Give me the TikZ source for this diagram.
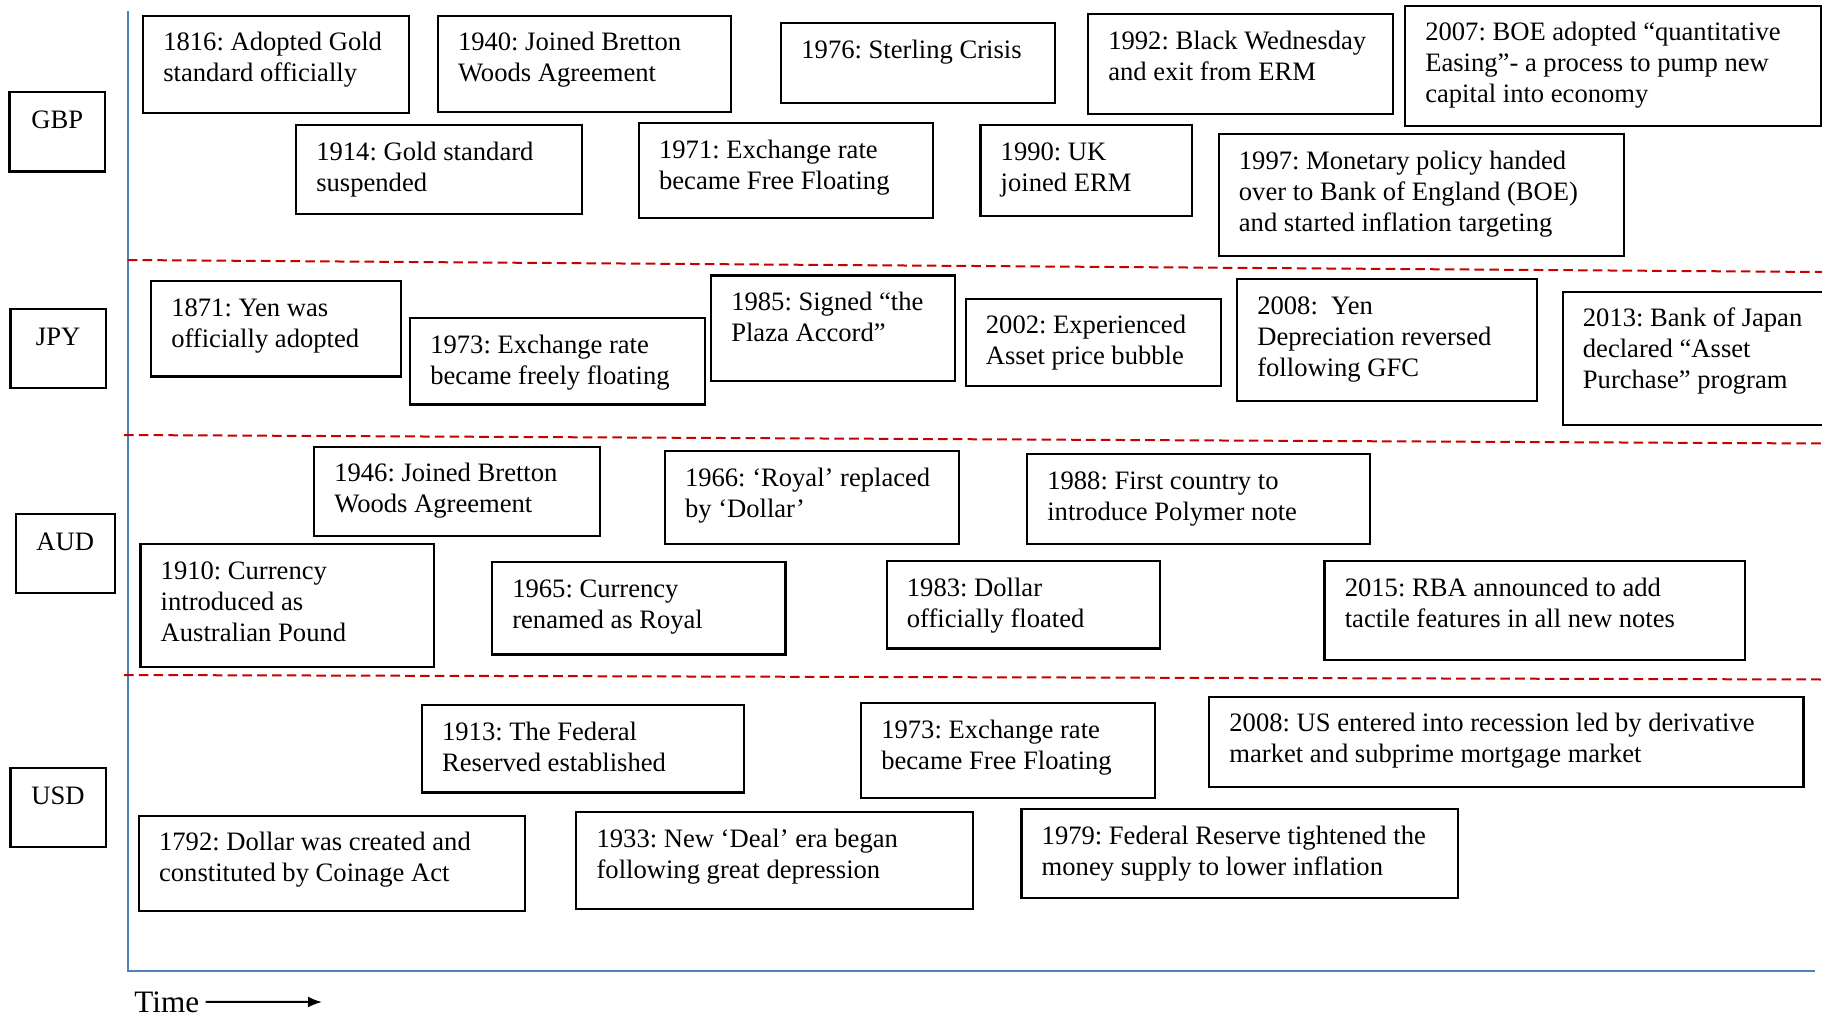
\documentclass[tikz,border=0pt]{standalone}
\usepackage{fontspec}
\setmainfont{Liberation Serif}
\frenchspacing
\usetikzlibrary{fit,calc,arrows.meta}
\newcommand\lines[1]{\begin{tabular}[t]{@{}l@{}}#1\end{tabular}}
\newcommand\boxfont{\rmfamily\fontsize{13.3}{15.5}\selectfont}
\definecolor{axisblue}{RGB}{79,129,189}
\definecolor{dashred}{RGB}{200,0,0}
\tikzset{
  box/.style={draw=black, line width=1.1pt, inner sep=0pt},
  txt/.style={anchor=base west, inner sep=0pt, font=\boxfont},
  cur/.style={anchor=base, inner sep=0pt, font=\boxfont},
  reddash/.style={draw=dashred, line width=1pt, dash pattern=on 4.8pt off 2.6pt},
  axisline/.style={draw=axisblue, line width=0.9pt},
}
\newcommand\evbox[6]{%
  \coordinate (#1-a) at (#2,#3);
  \coordinate (#1-b) at (#4,#5);
  \node[box, fit=(#1-a)(#1-b)] (#1) {};
  \node[txt] (#1-t) at ($(#1.north west)+(21,36.3)$) {\lines{#6}};
}
\newcommand\curbox[6]{%
  \coordinate (#1-a) at (#2,#3);
  \coordinate (#1-b) at (#4,#5);
  \node[box, fit=(#1-a)(#1-b)] (#1) {};
  \node[cur] (#1-t) at ($(#1.north)+(0,37.5)$) {#6};
}
\begin{document}
\begin{tikzpicture}[x=0.5pt,y=-0.5pt]
\useasboundingbox (0,0) rectangle (1822,1017);
% axes
\coordinate (ax-top) at (127.7,10.7);
\coordinate (ax-corner) at (127.7,971);
\coordinate (ax-end) at (1815,971);
\draw[axisline] (ax-top) -- (ax-corner) -- (ax-end);
% separators
\coordinate (s1a) at (127.7,260); \coordinate (s1b) at (1822,272);
\coordinate (s2a) at (124,435);   \coordinate (s2b) at (1822,443.5);
\coordinate (s3a) at (124,675);   \coordinate (s3b) at (1822,679.5);
\draw[reddash] (s1a) -- (s1b);
\draw[reddash] (s2a) -- (s2b);
\draw[reddash] (s3a) -- (s3b);
% currency labels
\curbox{gbp}{9.5}{91.7}{105}{171.5}{GBP}
\curbox{jpy}{10.5}{309}{105.7}{388}{JPY}
\curbox{aud}{15.8}{513.7}{114.7}{593.3}{AUD}
\curbox{usd}{10.5}{768}{105.7}{847}{USD}
% GBP
\evbox{g1816}{143}{15.7}{409}{112.7}{1816: Adopted Gold\\standard officially}
\evbox{g1940}{437.7}{15.7}{731.3}{112}{1940: Joined Bretton\\Woods Agreement}
\evbox{g1976}{781.1}{23.3}{1055.1}{102.7}{1976: Sterling Crisis}
\evbox{g1992}{1088}{14}{1393}{114}{1992: Black Wednesday\\and exit from ERM}
\evbox{g2007}{1405}{5.7}{1821}{126}{2007: BOE adopted “quantitative\\Easing”- a process to pump new\\capital into economy}
\evbox{g1914}{296}{125}{582}{213.7}{1914: Gold standard\\suspended}
\evbox{g1971}{638.8}{123.3}{933.3}{217.7}{1971: Exchange rate\\became Free Floating}
\evbox{g1990}{980.4}{125}{1192}{216}{1990: UK\\joined ERM}
\evbox{g1997}{1218.6}{134.3}{1623.6}{256}{1997: Monetary policy handed\\over to Bank of England (BOE)\\and started inflation targeting}
% JPY
\evbox{j1871}{151}{281}{401}{376.5}{1871: Yen was\\officially adopted}
\evbox{j1973}{410}{318}{705}{404.4}{1973: Exchange rate\\became freely floating}
\evbox{j1985}{711}{275.4}{955}{381}{1985: Signed “the\\Plaza Accord”}
\evbox{j2002}{965.6}{298.6}{1221}{385.8}{2002: Experienced\\Asset price bubble}
\evbox{j2008}{1237}{279}{1537}{401}{2008:\ \ Yen\\Depreciation reversed\\following GFC}
\evbox{j2013}{1562.6}{291.7}{1840}{425}{2013: Bank of Japan\\declared “Asset\\Purchase” program}
% AUD
\evbox{a1946}{314}{446.7}{600.2}{536}{1946: Joined Bretton\\Woods Agreement}
\evbox{a1966}{664.7}{450.9}{958.6}{543.8}{1966: ‘Royal’ replaced\\by ‘Dollar’}
\evbox{a1988}{1027}{454.3}{1370}{543.8}{1988: First country to\\introduce Polymer note}
\evbox{a1910}{140.4}{544.3}{434.2}{666.7}{1910: Currency\\introduced as\\Australian Pound}
\evbox{a1965}{492}{562.3}{785.5}{654.5}{1965: Currency\\renamed as Royal}
\evbox{a1983}{886.6}{561.2}{1159.7}{648.4}{1983: Dollar\\officially floated}
\evbox{a2015}{1324.5}{561.2}{1745}{660}{2015: RBA announced to add\\tactile features in all new notes}
% USD
\evbox{u1913}{421.8}{705.3}{743.7}{792.5}{1913: The Federal\\Reserved established}
\evbox{u1973}{861}{703.3}{1155.2}{797.7}{1973: Exchange rate\\became Free Floating}
\evbox{u2008}{1209.1}{696.7}{1803.5}{786.7}{2008: US entered into recession led by derivative\\market and subprime mortgage market}
\evbox{u1792}{138.8}{815.7}{524.6}{911}{1792: Dollar was created and\\constituted by Coinage Act}
\evbox{u1933}{576.3}{812.2}{972.6}{909}{1933: New ‘Deal’ era began\\following great depression}
\evbox{u1979}{1021.4}{809}{1457.7}{898}{1979: Federal Reserve tightened the\\money supply to lower inflation}
% time
\node[anchor=base west, inner sep=0pt, font=\rmfamily\fontsize{15.6}{18}\selectfont] (time) at (134,1012) {Time};
\coordinate (time-end) at (322,1002);
\draw[line width=1pt, -{Latex[length=7pt,width=5.5pt]}] ($(time.east)+(6,0)$) -- (time-end);
\end{tikzpicture}
\end{document}
